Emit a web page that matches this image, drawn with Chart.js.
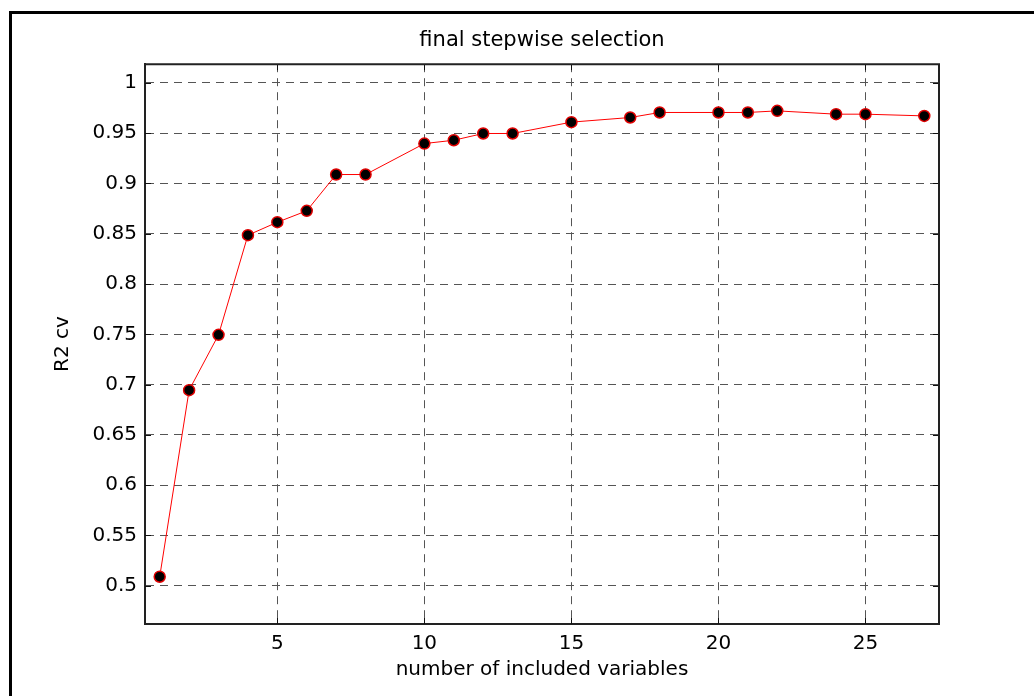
<!DOCTYPE html>
<html>
<head>
<meta charset="utf-8">
<script src="https://cdn.jsdelivr.net/npm/chart.js@4/dist/chart.umd.min.js"></script>
<style>
    html, body { margin: 0; padding: 0; background: #fff; overflow: hidden; }
    #wrap { position: relative; width: 1034px; height: 696px; }
    #frame {
        position: absolute; left: 9px; top: 11px; width: 1100px; height: 800px;
        border-left: 3px solid #000; border-top: 3px solid #000; pointer-events: none;
    }
</style>
</head>
<body>
<div id="wrap">
    <canvas id="stepChart" width="1034" height="696"></canvas>
    <div id="frame"></div>
</div>
<script>
// number of included variables vs cross-validated R2
const nVars = [1, 2, 3, 4, 5, 6, 7, 8, 10, 11, 12, 13, 15, 17, 18, 20, 21, 22, 24, 25, 27];
const r2cv = [0.509, 0.6945, 0.7495, 0.8486, 0.8615, 0.8728, 0.9089, 0.9089, 0.9397, 0.943, 0.9497,
              0.9497, 0.961, 0.9656, 0.9706, 0.9706, 0.9706, 0.9722, 0.9689, 0.9689, 0.9672];
const xTicks = [5, 10, 15, 20, 25];
const yTicks = [0.5, 0.55, 0.6, 0.65, 0.7, 0.75, 0.8, 0.85, 0.9, 0.95, 1];

const fontFamily = '"DejaVu Sans", sans-serif';

// MATLAB style box: top/right edges plus inward tick marks
const boxPlugin = {
    id: 'boxPlugin',
    beforeDatasetsDraw(chart) {
        const ctx = chart.ctx;
        const a = chart.chartArea;
        const xs = chart.scales.x, ys = chart.scales.y;
        ctx.save();
        ctx.strokeStyle = '#111';
        ctx.lineWidth = 1;
        ctx.beginPath();
        xTicks.forEach(v => {
            const px = Math.round(xs.getPixelForValue(v)) + 0.5;
            ctx.moveTo(px, a.bottom); ctx.lineTo(px, a.bottom - 6);
            ctx.moveTo(px, a.top); ctx.lineTo(px, a.top + 6);
        });
        yTicks.forEach(v => {
            const py = Math.round(ys.getPixelForValue(v)) + 0.5;
            ctx.moveTo(a.left, py); ctx.lineTo(a.left + 6, py);
            ctx.moveTo(a.right, py); ctx.lineTo(a.right - 6, py);
        });
        ctx.stroke();
        ctx.lineWidth = 2;
        ctx.strokeStyle = '#222';
        ctx.beginPath();
        ctx.moveTo(a.left, a.top);
        ctx.lineTo(a.right, a.top);
        ctx.lineTo(a.right, a.bottom);
        ctx.stroke();
        ctx.restore();
    }
};

const ctx = document.getElementById('stepChart').getContext('2d');
new Chart(ctx, {
    type: 'line',
    data: {
        datasets: [{
            label: 'R2 cv',
            data: nVars.map((n, i) => ({ x: n, y: r2cv[i] })),
            borderColor: '#ff0000',
            borderWidth: 1,
            backgroundColor: '#000',
            pointBackgroundColor: '#000',
            pointBorderColor: '#e00000',
            pointBorderWidth: 1.5,
            pointRadius: 5.5,
            pointHoverRadius: 5.5,
            tension: 0,
            fill: false
        }]
    },
    options: {
        responsive: false,
        animation: false,
        layout: { padding: { left: 0, right: 95, top: 0, bottom: 0 } },
        plugins: {
            legend: { display: false },
            tooltip: { enabled: false },
            title: {
                display: true,
                fullSize: false,
                text: 'final stepwise selection',
                color: '#000',
                font: { family: fontFamily, size: 21, weight: 'normal' },
                padding: { top: 28, bottom: 11 }
            }
        },
        scales: {
            x: {
                type: 'linear',
                min: 0.5,
                max: 27.5,
                afterFit: s => { s.height = 72; },
                ticks: {
                    stepSize: 5,
                    includeBounds: false,
                    color: '#000',
                    padding: 8,
                    font: { family: fontFamily, size: 20 }
                },
                grid: { color: '#555', lineWidth: 1, drawTicks: false },
                border: { display: true, color: '#222', width: 2, dash: [8, 6] },
                title: {
                    display: true,
                    text: 'number of included variables',
                    color: '#000',
                    font: { family: fontFamily, size: 20 },
                    padding: { top: 0, bottom: 14 }
                }
            },
            y: {
                type: 'linear',
                min: 0.462,
                max: 1.0186,
                afterFit: s => { s.width = 145; },
                ticks: {
                    stepSize: 0.05,
                    includeBounds: false,
                    color: '#000',
                    padding: 8,
                    font: { family: fontFamily, size: 20 },
                    callback: v => String(+v.toFixed(2))
                },
                grid: { color: '#555', lineWidth: 1, drawTicks: false },
                border: { display: true, color: '#222', width: 2, dash: [8, 6] },
                title: {
                    display: true,
                    text: 'R2 cv',
                    color: '#000',
                    font: { family: fontFamily, size: 20 },
                    padding: { top: 51, bottom: 0 }
                }
            }
        }
    },
    plugins: [boxPlugin]
});
</script>
</body>
</html>
